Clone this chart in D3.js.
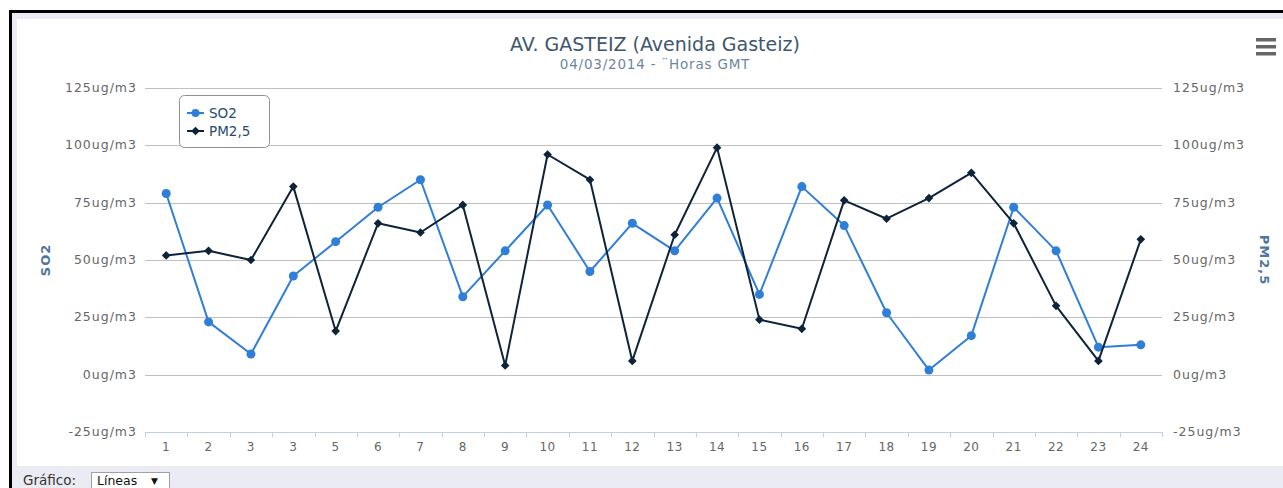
<!DOCTYPE html>
<html>
<head>
<meta charset="utf-8">
<script src="https://cdnjs.cloudflare.com/ajax/libs/d3/7.8.5/d3.min.js"></script>
<style>
  html, body { margin: 0; padding: 0; background: #ffffff; overflow: hidden; }
  svg { display: block; font-family: "DejaVu Sans", Verdana, sans-serif; }
</style>
</head>
<body>
<svg id="chart" width="1283" height="488"></svg>
<script>
// ---- data ----
const hours = ["1","2","3","3","5","6","7","8","9","10","11","12","13","14","15","16","17","18","19","20","21","22","23","24"];
const so2 = [79, 23, 9, 43, 58, 73, 85, 34, 54, 74, 45, 66, 54, 77, 35, 82, 65, 27, 2, 17, 73, 54, 12, 13];
const pm25 = [52, 54, 50, 82, 19, 66, 62, 74, 4, 96, 85, 6, 61, 99, 24, 20, 76, 68, 77, 88, 66, 30, 6, 59];
const yTicks = [-25, 0, 25, 50, 75, 100, 125];
const unit = "ug/m3";
const titleText = "AV. GASTEIZ (Avenida Gasteiz)";
const subtitleText = "04/03/2014 - ¨Horas GMT";
const seriesNames = ["SO2", "PM2,5"];
const seriesColors = ["#2f7ed8", "#0d233a"];

const svg = d3.select("#chart");

// ---- page frame ----
svg.append("rect").attr("x", 12).attr("y", 13).attr("width", 1271).attr("height", 475).attr("fill", "#ebebf3");
svg.append("rect").attr("x", 17).attr("y", 19).attr("width", 1266).attr("height", 447).attr("fill", "#ffffff");
svg.append("rect").attr("x", 9).attr("y", 10).attr("width", 1274).attr("height", 3).attr("fill", "#000");
svg.append("rect").attr("x", 9).attr("y", 10).attr("width", 3).attr("height", 478).attr("fill", "#000");

// ---- scales ----
const x = d3.scaleBand().domain(d3.range(hours.length)).range([145, 1162]);
const y = d3.scaleLinear().domain([-25, 125]).range([432, 88]);
const cx = i => x(i) + x.bandwidth() / 2;

// ---- grid ----
const grid = svg.append("g");
grid.selectAll("line").data(yTicks.filter(t => t > -25)).join("line")
  .attr("x1", 145).attr("x2", 1162)
  .attr("y1", d => Math.round(y(d)) + 0.5).attr("y2", d => Math.round(y(d)) + 0.5)
  .attr("stroke", "#c0c0c0").attr("stroke-width", 1);

// ---- x axis ----
const xAxisG = svg.append("g");
xAxisG.append("line").attr("x1", 145).attr("x2", 1162)
  .attr("y1", Math.round(y(-25)) + 0.5).attr("y2", Math.round(y(-25)) + 0.5)
  .attr("stroke", "#c0d0e0");
const bounds = d3.range(hours.length + 1).map(i => 145 + i * x.bandwidth());
xAxisG.selectAll("line.tick").data(bounds).join("line").attr("class", "tick")
  .attr("x1", d => Math.round(d) + 0.5).attr("x2", d => Math.round(d) + 0.5)
  .attr("y1", Math.round(y(-25))).attr("y2", Math.round(y(-25)) + 5)
  .attr("stroke", "#c0d0e0");
xAxisG.selectAll("text").data(hours).join("text")
  .attr("x", (d, i) => cx(i)).attr("y", 451)
  .attr("text-anchor", "middle").attr("fill", "#666").attr("font-size", 12)
  .attr("letter-spacing", 0.5)
  .text(d => d);

// ---- y axes labels ----
const fmt = d => d + unit;
svg.append("g").selectAll("text").data(yTicks).join("text")
  .attr("x", 137).attr("y", d => y(d) + 4)
  .attr("text-anchor", "end").attr("fill", "#666").attr("font-size", 12.5)
  .attr("letter-spacing", 1)
  .text(fmt);
svg.append("g").selectAll("text").data(yTicks).join("text")
  .attr("x", 1173).attr("y", d => y(d) + 4)
  .attr("text-anchor", "start").attr("fill", "#666").attr("font-size", 12.5)
  .attr("letter-spacing", 1)
  .text(fmt);

// axis titles
svg.append("text").attr("transform", `translate(50,${y(50)}) rotate(-90)`)
  .attr("text-anchor", "middle").attr("fill", "#4d759e").attr("font-size", 13)
  .attr("letter-spacing", 1).attr("font-weight", "bold").text(seriesNames[0]);
svg.append("text").attr("transform", `translate(1260,${y(50)}) rotate(90)`)
  .attr("text-anchor", "middle").attr("fill", "#4d759e").attr("font-size", 13)
  .attr("letter-spacing", 1).attr("font-weight", "bold").text(seriesNames[1]);

// ---- title ----
svg.append("text").attr("x", 655).attr("y", 51).attr("text-anchor", "middle")
  .attr("fill", "#3e576f").attr("font-size", 19).text(titleText);
svg.append("text").attr("x", 655).attr("y", 69).attr("text-anchor", "middle")
  .attr("fill", "#6d869f").attr("font-size", 13.5).attr("letter-spacing", 0.8).text(subtitleText);

// ---- series ----
const line = d3.line().x((d, i) => cx(i)).y(d => y(d));
svg.append("path").datum(so2).attr("d", line).attr("fill", "none")
  .attr("stroke", seriesColors[0]).attr("stroke-width", 2).attr("stroke-linejoin", "round");
svg.append("g").selectAll("circle").data(so2).join("circle")
  .attr("cx", (d, i) => cx(i)).attr("cy", d => y(d)).attr("r", 4.5).attr("fill", seriesColors[0]);

svg.append("path").datum(pm25).attr("d", line).attr("fill", "none")
  .attr("stroke", seriesColors[1]).attr("stroke-width", 2).attr("stroke-linejoin", "round");
const diamond = d3.symbol().type(d3.symbolDiamond2).size(48);
svg.append("g").selectAll("path").data(pm25).join("path")
  .attr("transform", (d, i) => `translate(${cx(i)},${y(d)})`)
  .attr("d", diamond).attr("fill", seriesColors[1]);

// ---- legend ----
const lg = svg.append("g");
lg.append("rect").attr("x", 179.5).attr("y", 95.5).attr("width", 90).attr("height", 52).attr("rx", 5)
  .attr("fill", "#fff").attr("stroke", "#909090");
seriesNames.forEach((name, k) => {
  const ly = 113 + k * 18;
  lg.append("line").attr("x1", 187).attr("x2", 204).attr("y1", ly).attr("y2", ly)
    .attr("stroke", seriesColors[k]).attr("stroke-width", 2);
  if (k === 0) {
    lg.append("circle").attr("cx", 195.5).attr("cy", ly).attr("r", 4).attr("fill", seriesColors[k]);
  } else {
    lg.append("path").attr("transform", `translate(195.5,${ly})`).attr("d", diamond).attr("fill", seriesColors[k]);
  }
  lg.append("text").attr("x", 209).attr("y", ly + 5).attr("fill", "#274b6d").attr("font-size", 13.5)
    .text(name);
});

// ---- menu button ----
const mb = svg.append("g");
[0, 7, 14].forEach(dy => {
  mb.append("rect").attr("x", 1256).attr("y", 38 + dy).attr("width", 20).attr("height", 3.5)
    .attr("fill", "#666");
});

// ---- bottom control ----
svg.append("text").attr("x", 23).attr("y", 485).attr("fill", "#333").attr("font-size", 13.5).text("Gráfico:");
svg.append("rect").attr("x", 91.5).attr("y", 472.5).attr("width", 78).attr("height", 20)
  .attr("fill", "#fff").attr("stroke", "#a0a0a0");
svg.append("text").attr("x", 97).attr("y", 485).attr("fill", "#111").attr("font-size", 12.5).text("Líneas");
svg.append("text").attr("x", 151).attr("y", 484).attr("fill", "#111").attr("font-size", 9).text("▼");
</script>
</body>
</html>
